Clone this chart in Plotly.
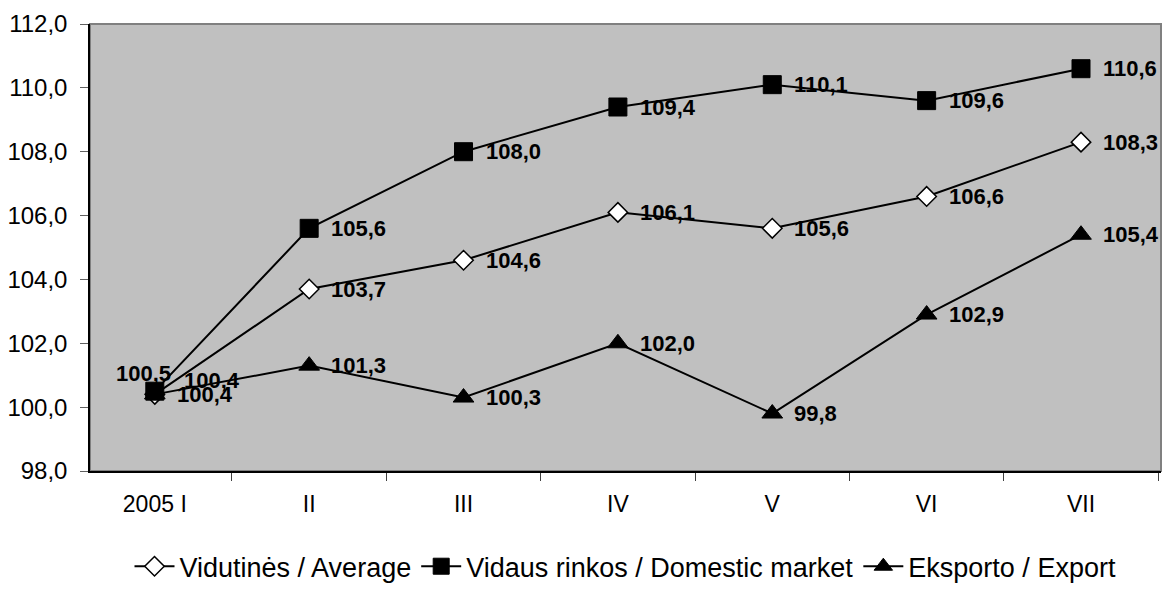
import plotly.graph_objects as go

# Months of 2005
months = ["2005 I", "II", "III", "IV", "V", "VI", "VII"]

average = [100.4, 103.7, 104.6, 106.1, 105.6, 106.6, 108.3]
domestic = [100.5, 105.6, 108.0, 109.4, 110.1, 109.6, 110.6]
export = [100.4, 101.3, 100.3, 102.0, 99.8, 102.9, 105.4]

series = [
    ("Vidutinės / Average", average, dict(symbol="diamond", size=15, color="white", line=dict(color="black", width=1.5))),
    ("Vidaus rinkos / Domestic market", domestic, dict(symbol="square", size=18, color="black", line=dict(color="black", width=1))),
    ("Eksporto / Export", export, dict(symbol="triangle-up", size=18, color="black", line=dict(color="black", width=1))),
]

fig = go.Figure()
for name, vals, marker in series:
    fig.add_trace(go.Scatter(x=months, y=vals, name=name, mode="lines+markers",
                             line=dict(color="black", width=2), marker=marker))

def fmt(v):
    return "{:.1f}".format(v).replace(".", ",")

# Value labels, right of the markers (first month labels overlap, as in the original)
label_font = dict(family="Liberation Sans, Arial", size=22, color="black")
for name, vals, marker in series:
    for i, v in enumerate(vals):
        xshift, yshift, xanchor = 20, 0, "left"
        if i == 0:
            if vals is domestic:
                xshift, yshift, xanchor = -11, 18, "center"
            elif vals is average:
                xshift, yshift = 27, 14
            else:
                xshift, yshift = 20, 0
        fig.add_annotation(x=months[i], y=v, text="<b>" + fmt(v) + "</b>", showarrow=False,
                           xanchor=xanchor, yanchor="middle", xshift=xshift, yshift=yshift,
                           font=label_font)

# grey top/right frame
fig.add_shape(type="rect", xref="paper", yref="paper", x0=0, y0=0, x1=1, y1=1,
              line=dict(color="#808080", width=2), layer="below")

fig.update_layout(
    width=1169, height=599,
    margin=dict(l=90, r=8, t=24, b=113),
    paper_bgcolor="white", plot_bgcolor="#C0C0C0",
    font=dict(family="Liberation Sans, Arial", size=22, color="black"),
    showlegend=True,
    legend=dict(orientation="h", x=0.5, xanchor="center", y=-0.214, yanchor="middle",
                font=dict(size=27), itemwidth=40, tracegroupgap=0),
    separators=", ",
)
fig.update_xaxes(type="category", tickson="boundaries", ticks="outside", ticklen=8,
                 tickcolor="#404040", showline=True, linecolor="black", linewidth=1.5,
                 showgrid=False, zeroline=False, tickfont=dict(size=23),
                 ticklabelstandoff=12)
fig.update_yaxes(range=[98, 112], dtick=2, tickformat=".1f", ticks="outside", ticklen=8,
                 tickcolor="#606060", showline=True, linecolor="black", linewidth=1.5,
                 showgrid=False, zeroline=False, tickfont=dict(size=24),
                 ticklabelstandoff=8)

# drop the page margin so the figure sits at the window's corner, no modebar
fig.write_html("out.html", config={"displayModeBar": False},
               post_script="document.body.style.margin='0';")
